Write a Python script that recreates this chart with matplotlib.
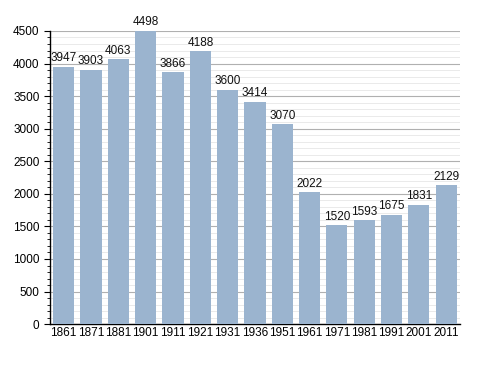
import numpy as np
import matplotlib
matplotlib.use("Agg")
import matplotlib.pyplot as plt
from matplotlib.ticker import MultipleLocator

plt.rcParams["font.family"] = ["Liberation Sans", "DejaVu Sans"]

anni = ["1861", "1871", "1881", "1901", "1911", "1921", "1931", "1936",
        "1951", "1961", "1971", "1981", "1991", "2001", "2011"]
abitanti = [3947, 3903, 4063, 4498, 3866, 4188, 3600, 3414,
            3070, 2022, 1520, 1593, 1675, 1831, 2129]

fig = plt.figure(figsize=(4.88, 3.73), dpi=100)
ax = fig.add_axes([0.1025, 0.131, 0.840, 0.786])

x = np.arange(len(anni))
ax.bar(x, abitanti, width=0.77, color="#9bb4cf", zorder=3)

for xi, v in zip(x, abitanti):
    ax.text(xi, v + 40, str(v), ha="center", va="bottom", fontsize=8.5,
            color="#111111", zorder=4)

ax.set_xlim(-0.5, len(anni) - 0.5)
ax.set_ylim(0, 4500)
ax.yaxis.set_major_locator(MultipleLocator(500))
ax.yaxis.set_minor_locator(MultipleLocator(100))
ax.grid(axis="y", which="major", color="#b0b0b0", linewidth=0.8, zorder=0)
ax.grid(axis="y", which="minor", color="#e6e6e6", linewidth=0.6, zorder=0)

ax.set_xticks(x)
ax.set_xticklabels(anni, fontsize=8.5)
ax.tick_params(axis="x", length=0, pad=2)
ax.tick_params(axis="y", which="major", labelsize=8.5, length=4, width=0.8)
ax.tick_params(axis="y", which="minor", length=2, width=0.6)

for s in ["top", "right"]:
    ax.spines[s].set_visible(False)
ax.spines["left"].set_linewidth(1.0)
ax.spines["bottom"].set_linewidth(1.0)

fig.savefig("out.png", dpi=100)
